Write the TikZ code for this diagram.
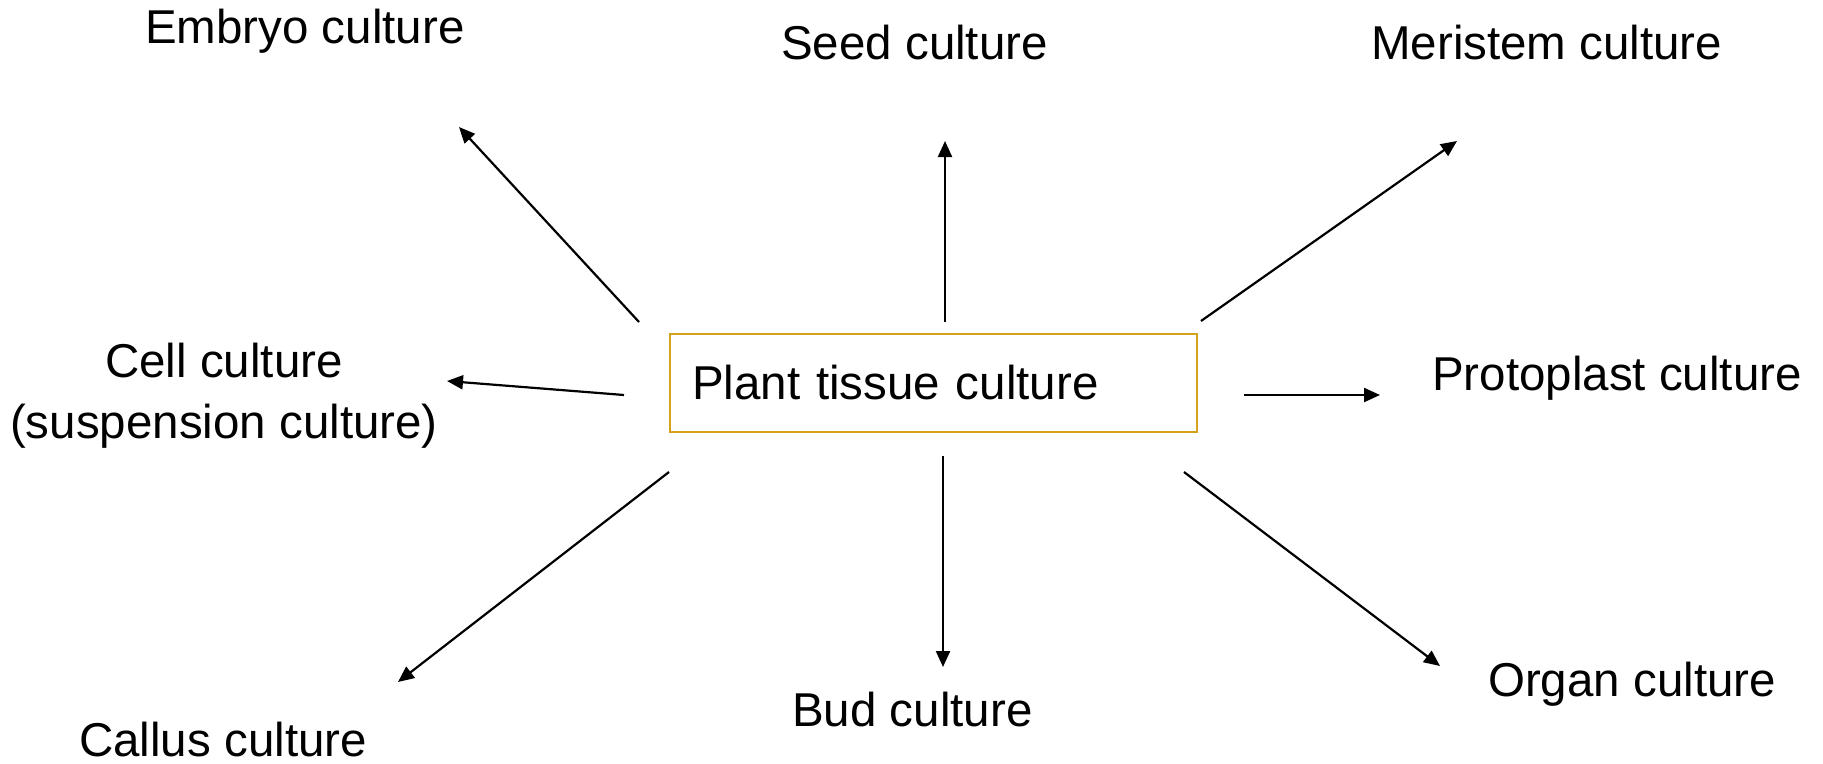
\documentclass[tikz,border=0pt]{standalone}
\usepackage{fontspec}
\setmainfont{Liberation Sans}
\usetikzlibrary{arrows.meta}
\definecolor{boxgold}{RGB}{214,162,30}
\begin{document}
\begin{tikzpicture}[x=1pt,y=-1pt,
  lbl/.style={inner sep=0pt,font=\fontsize{47.5}{61}\selectfont},
  arr/.style={line width=2.2pt,-{Triangle[length=16pt,width=14pt]}},
  centre/.style={draw=boxgold,line width=2pt,minimum width=527pt,minimum height=98pt,
    inner xsep=22pt,inner ysep=0pt,text width=483pt,align=left,
    text height=45pt,text depth=12pt,font=\fontsize{47.5}{57}\selectfont}]
\useasboundingbox (0,0) rectangle (1823,763);
% centre box
\node[centre] (ptc) at (933.5,383) {Plant tissue culture};
% labels
\node[lbl,anchor=base west] (embryo) at (145,43.5) {Embryo culture};
\node[lbl,anchor=base west] (seed) at (781,59.5) {Seed culture};
\node[lbl,anchor=base west] (meristem) at (1371,59.5) {Meristem culture};
\node[lbl,anchor=base,align=center] (cell) at (224,438) {Cell culture\\(suspension culture)};
\node[lbl,anchor=base west] (proto) at (1432,390.5) {Protoplast culture};
\node[lbl,anchor=base west] (callus) at (79,756) {Callus culture};
\node[lbl,anchor=base west] (bud) at (792,726.5) {Bud culture};
\node[lbl,anchor=base west] (organ) at (1488,696.5) {Organ culture};
% arrow end points
\coordinate (s1) at (639,322);  \coordinate (t1) at (459,127);
\coordinate (s2) at (945,322);  \coordinate (t2) at (945,141);
\coordinate (s3) at (1201,321); \coordinate (t3) at (1457,141);
\coordinate (s4) at (624,395);  \coordinate (t4) at (447,381);
\coordinate (s5) at (1244,395); \coordinate (t5) at (1380,395);
\coordinate (s6) at (669,472);  \coordinate (t6) at (398,682);
\coordinate (s7) at (943,456);  \coordinate (t7) at (943,667);
\coordinate (s8) at (1184,472); \coordinate (t8) at (1440,666);
% arrows
\draw[arr] (s1) -- (t1);
\draw[arr] (s2) -- (t2);
\draw[arr] (s3) -- (t3);
\draw[arr] (s4) -- (t4);
\draw[arr] (s5) -- (t5);
\draw[arr] (s6) -- (t6);
\draw[arr] (s7) -- (t7);
\draw[arr] (s8) -- (t8);
\end{tikzpicture}
\end{document}
